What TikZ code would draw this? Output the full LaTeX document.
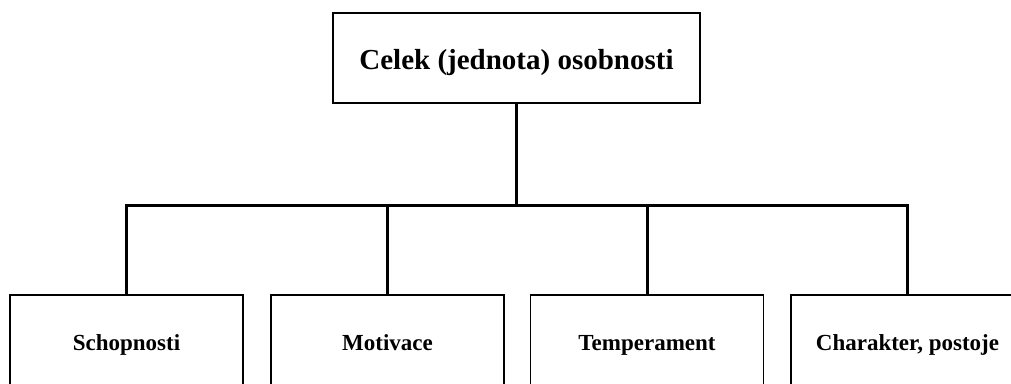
\documentclass[tikz,border=0pt]{standalone}
\usepackage{fontspec}
\setmainfont{Liberation Serif}
\begin{document}
\begin{tikzpicture}[x=1pt,y=-1pt,
  box/.style={draw=black,line width=1.8pt,fill=white,inner sep=0pt,outer sep=0pt,
    font=\bfseries\fontsize{23}{27}\selectfont,minimum width=233pt,minimum height=96pt,
    text height=15pt,text depth=0pt},
  topbox/.style={box,font=\bfseries\fontsize{29}{34}\selectfont,minimum width=367pt,minimum height=90pt,
    text height=23pt,text depth=0pt},
  conn/.style={draw=black,line width=3pt,line join=miter}]
\useasboundingbox (0,0) rectangle (1011,383);
\clip (0,0) rectangle (1011,383);
\node[topbox] (top) at (516.5,58) {Celek (jednota) osobnosti};
\node[box] (b1) at (126.5,343) {Schopnosti};
\node[box] (b2) at (387.5,343) {Motivace};
\node[box] (b3) at (647,343) {Temperament};
\node[box] (b4) at (907.5,343) {Charakter, postoje};
\coordinate (j) at (516.5,205.5);
\draw[conn] (top.south) -- (j);
\draw[conn] (b1.north) |- (j) -| (b4.north);
\draw[conn] (b2.north) -- (b2.north |- j);
\draw[conn] (b3.north) -- (b3.north |- j);
\end{tikzpicture}
\end{document}
